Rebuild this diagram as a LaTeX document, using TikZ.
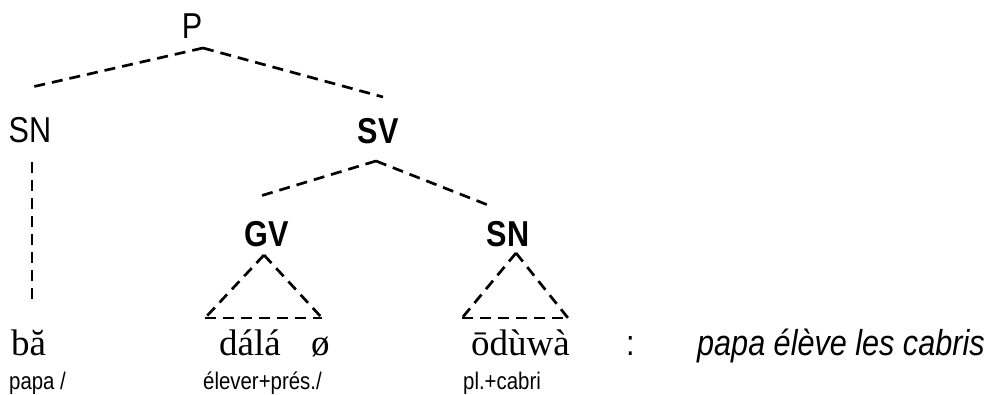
\documentclass[tikz,border=0pt]{standalone}
\usepackage{fontspec}
\setmainfont{Liberation Serif}
\newfontfamily\labfont[FakeStretch=0.85]{Liberation Sans}
\tikzset{
  dsh/.style={line width=2.7pt, dash pattern=on 11pt off 7pt},
  lab/.style={anchor=base, inner sep=0pt, font=\labfont\fontsize{36}{40}\selectfont},
  blab/.style={lab, font=\labfont\bfseries\fontsize{36}{40}\selectfont},
  word/.style={anchor=base west, inner sep=0pt, font=\fontsize{37}{40}\selectfont},
  gloss/.style={anchor=base west, inner sep=0pt, font=\labfont\fontsize{24}{26}\selectfont},
  trans/.style={anchor=base west, inner sep=0pt, font=\labfont\itshape\fontsize{36}{40}\selectfont}
}
\begin{document}
\begin{tikzpicture}[x=1pt,y=-1pt]
\path[use as bounding box] (0,0) rectangle (990,394);
% labels
\node[lab] (P) at (192,38) {P};
\node[lab] (SNa) at (30,142) {SN};
\node[blab] (SV) at (378,143) {SV};
\node[blab] (GV) at (267,246) {GV};
\node[blab] (SNb) at (508,246) {SN};
% words
\node[word] (ba) at (11,355) {bă};
\node[word] (dala) at (219,355) {dálá};
\node[word] (zero) at (311,355) {ø};
\node[word] (oduwa) at (471,355) {ōdùwà};
\node[lab, anchor=base west] (colon) at (626,355) {:};
\node[trans] (tr) at (697,355) {papa élève les cabris};
% glosses
\node[gloss] (g1) at (9,389) {papa /};
\node[gloss] (g2) at (203,389) {élever+prés./};
\node[gloss] (g3) at (463,389) {pl.+cabri};
% connector points
\coordinate (Pb) at (203,48);
\coordinate (SNat) at (32,87);
\coordinate (SVt) at (383,97);
\coordinate (SNab) at (32,162);
\coordinate (baT) at (32,303);
\coordinate (SVb) at (376,161);
\coordinate (GVt) at (257,197);
\coordinate (SNbt) at (493,207);
\coordinate (GVb) at (264,255);
\coordinate (GVl) at (205,318);
\coordinate (GVr) at (322,318);
\coordinate (SNbb) at (516,253);
\coordinate (SNl) at (462,318);
\coordinate (SNr) at (568,318);
% tree lines
\draw[dsh] (Pb) -- (SNat);
\draw[dsh] (Pb) -- (SVt);
\draw[dsh] (SNab) -- (baT);
\draw[dsh] (SVb) -- (GVt);
\draw[dsh] (SVb) -- (SNbt);
\draw[dsh] (GVb) -- (GVl);
\draw[dsh] (GVb) -- (GVr);
\draw[dsh] (GVl) -- (GVr);
\draw[dsh] (SNbb) -- (SNl);
\draw[dsh] (SNbb) -- (SNr);
\draw[dsh] (SNl) -- (SNr);
\end{tikzpicture}
\end{document}
